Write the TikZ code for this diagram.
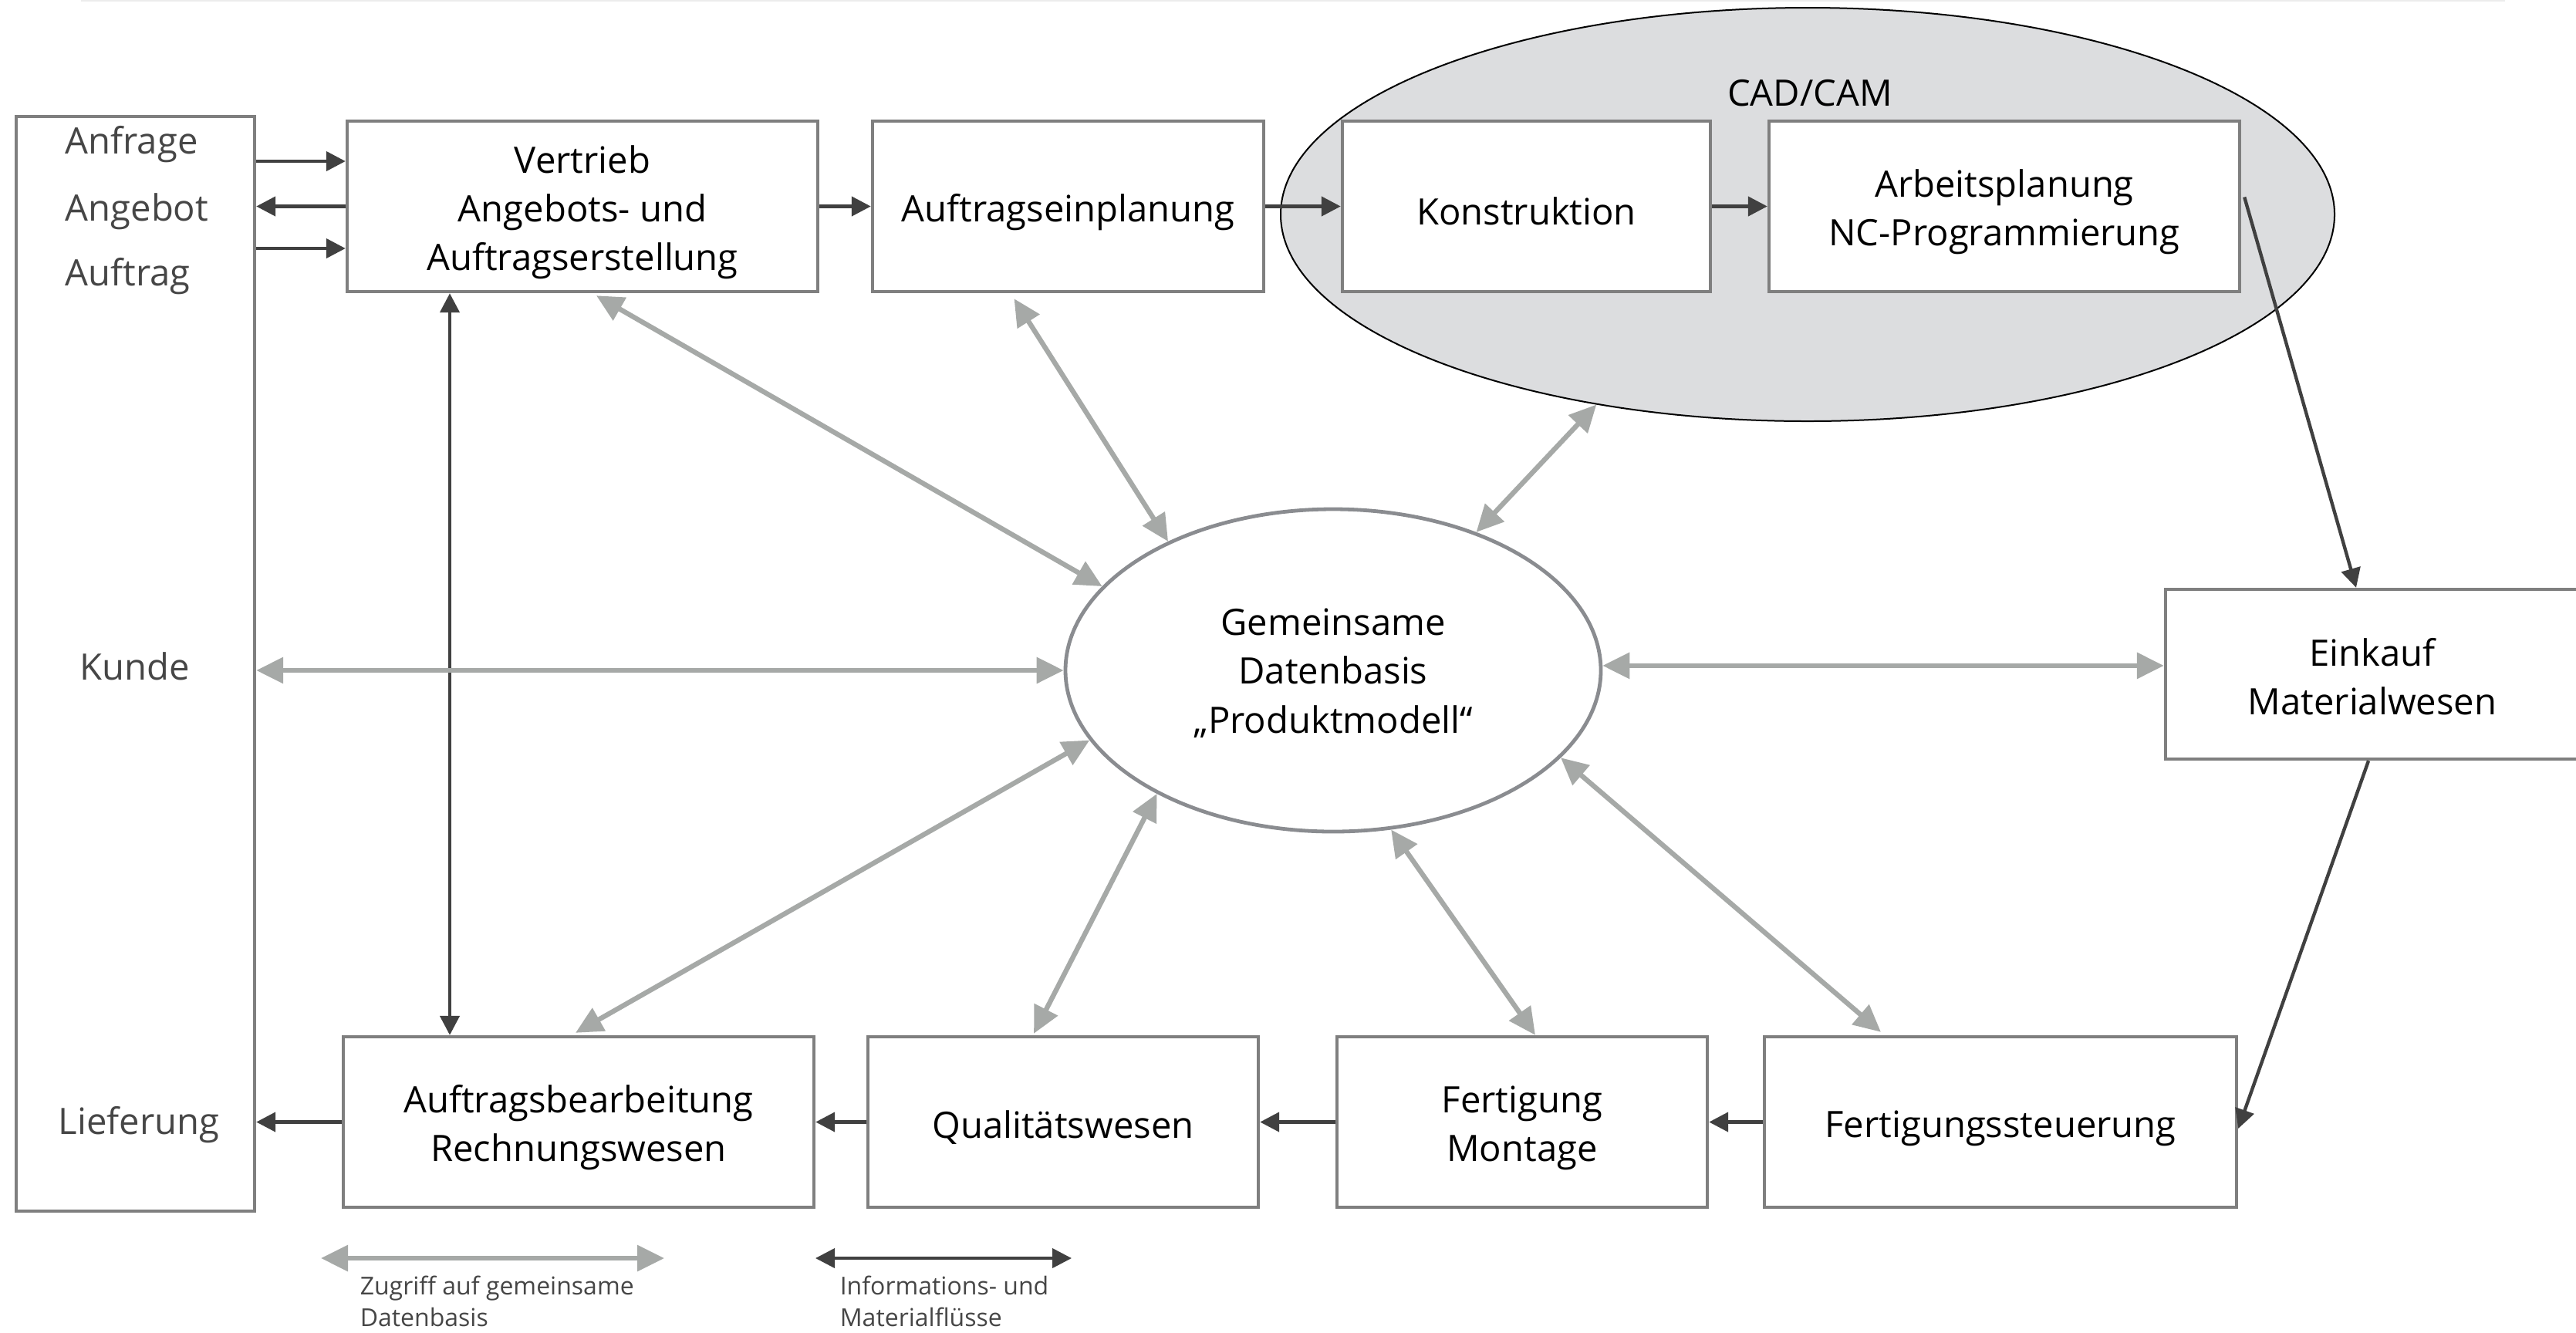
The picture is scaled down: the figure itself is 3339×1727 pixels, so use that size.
\documentclass[tikz,border=0pt]{standalone}
\usepackage{fontspec}
\setmainfont{Open Sans}
\usetikzlibrary{arrows.meta,shapes.geometric}
\definecolor{boxline}{RGB}{127,127,127}
\definecolor{darkarr}{RGB}{64,64,64}
\definecolor{grayarr}{RGB}{166,169,167}
\definecolor{ellline}{RGB}{138,140,144}
\definecolor{cadfill}{RGB}{220,221,223}
\definecolor{labelgray}{RGB}{70,70,70}
\definecolor{topline}{RGB}{236,236,236}
\newcommand\boxfont{\fontsize{11.8pt}{15.8pt}\selectfont}
\newcommand\legfont{\fontsize{8pt}{10.25pt}\selectfont}
\newcommand\tstr{\rule{0pt}{12.7pt}}
\newcommand\gstr{\rule{0pt}{10.5pt}}
\begin{document}
\begin{tikzpicture}[x=0.25pt,y=-0.25pt,
  box/.style={draw=boxline, line width=1.1pt, fill=white, rectangle, inner sep=0pt,
    minimum height=55.25pt, align=center, font=\boxfont, text=black},
  kundelbl/.style={font=\boxfont, text=labelgray, inner sep=0pt},
  legendtxt/.style={font=\legfont, text=labelgray, align=left, inner sep=0pt, anchor=north west},
  darr/.style={draw=darkarr, line width=1.1pt, -{Triangle[length=6.25pt,width=6.25pt]}},
  ddarr/.style={draw=darkarr, line width=1.1pt, {Triangle[length=6.25pt,width=6.25pt]}-{Triangle[length=6.25pt,width=6.25pt]}},
  garr/.style={draw=grayarr, line width=1.6pt, {Triangle[length=8.75pt,width=8.25pt]}-{Triangle[length=8.75pt,width=8.25pt]}}
]
\useasboundingbox (0,0) rectangle (3339,1727);
\draw[topline, line width=0.6pt] (105,1) -- (3247,1);

% CAD/CAM ellipse
\node[ellipse, draw=black, line width=0.5pt, fill=cadfill, inner sep=0pt,
  minimum width=341.5pt, minimum height=134pt] (cad) at (2343,278) {};
\node[font=\boxfont, anchor=base, inner sep=0pt] (cadlbl) at (2346,137) {CAD/CAM};

% Kunde
\node[box, minimum width=77.25pt, minimum height=354.75pt] (kunde) at (175.5,860.5) {};
\node[kundelbl, anchor=base west] (anfrage) at (84,199) {Anfrage};
\node[kundelbl, anchor=base west] (angebot) at (84,286) {Angebot};
\node[kundelbl, anchor=base west] (auftrag) at (84,370) {Auftrag};
\node[kundelbl, anchor=base] (kundelbl) at (175,881) {Kunde};
\node[kundelbl, anchor=base] (lieferung) at (180,1470) {Lieferung};

% top row
\node[box, minimum width=152.5pt] (vertrieb) at (755,267.5) {\tstr Vertrieb\\Angebots- und\\Auftragserstellung};
\node[box, minimum width=126.75pt] (einpl) at (1384.5,267.5) {\tstr Auftragseinplanung};
\node[box, minimum width=119.25pt] (konstr) at (1978.5,267.5) {\rule{0pt}{12pt}Konstruktion};
\node[box, minimum width=152.5pt] (arbeit) at (2598,267.5) {\tstr Arbeitsplanung\\NC-Programmierung};

% right
\node[box, minimum width=134pt, minimum height=55pt] (einkauf) at (3075,874) {\rule{0pt}{10.5pt}Einkauf\\Materialwesen};

% bottom row
\node[box, minimum width=152.5pt] (abearb) at (750,1454.5) {\tstr Auftragsbearbeitung\\Rechnungswesen};
\node[box, minimum width=126.5pt] (quali) at (1378,1454.5) {\tstr Qualitätswesen};
\node[box, minimum width=120pt] (fert) at (1973,1454.5) {\tstr Fertigung\\Montage};
\node[box, minimum width=153pt] (fsteuer) at (2593,1454.5) {\tstr Fertigungssteuerung};

% central ellipse
\node[ellipse, draw=ellline, line width=1.2pt, fill=white, inner sep=0pt,
  minimum width=173.5pt, minimum height=104.5pt, align=center, font=\boxfont] (G) at (1728,869)
  {\gstr Gemeinsame\\Datenbasis\\„Produktmodell“};

% dark arrows
\coordinate (a1) at ([shift={(0,-58.5)}]vertrieb.west);
\coordinate (a3) at ([shift={(0,54.5)}]vertrieb.west);
\draw[darr] (kunde.east |- a1) -- (a1);
\draw[darr] (vertrieb.west) -- (kunde.east |- vertrieb.west);
\draw[darr] (kunde.east |- a3) -- (a3);
\draw[darr] (vertrieb.east) -- (einpl.west);
\draw[darr] (einpl.east) -- (konstr.west);
\draw[darr] (konstr.east) -- (arbeit.west);
\draw[darr] ([shift={(4,-12)}]arbeit.east) -- ([shift={(-21,0)}]einkauf.north);
\draw[darr] ([shift={(-5,0)}]einkauf.south) -- ([shift={(0,8.5)}]fsteuer.east);
\draw[darr] (fsteuer.west) -- (fert.east);
\draw[darr] (fert.west) -- (quali.east);
\draw[darr] (quali.west) -- (abearb.east);
\draw[darr] (abearb.west) -- (kunde.east |- abearb.west);
\coordinate (v1) at ([shift={(-172,0)}]vertrieb.south);
\draw[ddarr] (v1) -- (v1 |- abearb.north);

% gray arrows
\draw[garr] ([shift={(18,3)}]vertrieb.south) -- (G.160.4);
\draw[garr] ([shift={(-70,7)}]einpl.south) -- (G.142.7);
\draw[garr] (cad.222.9) -- (G.44.4);
\draw[garr] (kunde.east |- G.180) -- (G.180);
\draw[garr] (G.1.5) -- (einkauf.west |- G.1.5);
\draw[garr] ([shift={(-4,-3)}]abearb.north) -- (G.196.4);
\draw[garr] ([shift={(-38,-2)}]quali.north) -- (G.215.9);
\draw[garr] ([shift={(17,0)}]fert.north) -- (G.290.8);
\draw[garr] ([shift={(-155,-4)}]fsteuer.north) -- (G.339);

% legend
\coordinate (lg1) at (416,1631);
\coordinate (lg2) at (861,1631);
\coordinate (ld1) at (1057,1631);
\coordinate (ld2) at (1389,1631);
\draw[garr, line width=1.5pt] (lg1) -- (lg2);
\draw[ddarr, line width=1pt] (ld1) -- (ld2);
\node[legendtxt] (leg1) at (466,1653) {Zugriff auf gemeinsame\\Datenbasis};
\node[legendtxt] (leg2) at (1088,1653) {Informations- und\\Materialflüsse};
\end{tikzpicture}
\end{document}
